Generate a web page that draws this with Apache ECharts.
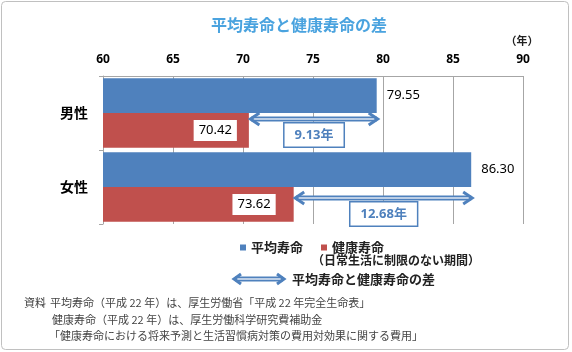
<!DOCTYPE html>
<html><head><meta charset="utf-8">
<script src="https://cdn.jsdelivr.net/npm/echarts@6/dist/echarts.min.js"></script>
<style>html,body{margin:0;padding:0;background:#fff}#c{width:572px;height:352px}</style>
</head><body><div id="c"></div>
<script>
// ---- data ----
const categories = ['男性', '女性'];
const lifeExpectancy = [79.55, 86.30];
const healthyLifeExpectancy = [70.42, 73.62];
const seriesNames = ['平均寿命', '健康寿命'];
const xMin = 60, xMax = 90, xInterval = 5;

// ---- style ----
const FONT = '"Noto Sans CJK JP", sans-serif';
const NUMFONT = '"Noto Sans", "Noto Sans CJK JP", sans-serif';
const BLUE = '#4f81bd', RED = '#c0504d', GRID = '#a6a6a6';
const arrowOffsets = [6, 11];
const boxOffsets = [22, 27];
const redLabelDist = [12, 18];

const gapData = categories.map((c, i) => [healthyLifeExpectancy[i], lifeExpectancy[i], i,
  +(lifeExpectancy[i] - healthyLifeExpectancy[i]).toFixed(2)]);

function arrowParts(x0, x1, y, head, half) {
  return [
    {type: 'line', shape: {x1: x0 + 2, y1: y, x2: x1 - 2, y2: y}, style: {stroke: BLUE, lineWidth: 5}},
    {type: 'line', shape: {x1: x0 + 4, y1: y, x2: x1 - 4, y2: y}, style: {stroke: '#dfe8f4', lineWidth: 1.5}},
    {type: 'polyline', shape: {points: [[x0 + head, y - half], [x0 + 1, y], [x0 + head, y + half]]},
      style: {stroke: BLUE, lineWidth: 3, fill: null}},
    {type: 'polyline', shape: {points: [[x1 - head, y - half], [x1 - 1, y], [x1 - head, y + half]]},
      style: {stroke: BLUE, lineWidth: 3, fill: null}}
  ];
}

const chart = echarts.init(document.getElementById('c'));
chart.setOption({
  animation: false,
  backgroundColor: '#fff',
  grid: {left: 103, right: 49, top: 76, bottom: 128},
  legend: {
    data: seriesNames, left: 235, top: 236, itemWidth: 6, itemHeight: 6, itemGap: 18,
    icon: 'rect', selectedMode: false,
    textStyle: {fontSize: 13, fontWeight: 'bold', color: '#222', fontFamily: FONT}
  },
  xAxis: {
    type: 'value', position: 'top', min: xMin, max: xMax, interval: xInterval,
    axisLine: {show: true, lineStyle: {color: GRID}},
    axisTick: {show: false},
    axisLabel: {margin: 10, color: '#000', fontSize: 12, fontWeight: 'bold', fontFamily: NUMFONT},
    splitLine: {show: true, lineStyle: {color: GRID}}
  },
  yAxis: {
    type: 'category', data: categories, inverse: true,
    axisLine: {show: true, lineStyle: {color: GRID}},
    axisTick: {show: true, length: 4, lineStyle: {color: GRID}},
    axisLabel: {fontSize: 14, fontWeight: 'bold', color: '#000', margin: 15, fontFamily: FONT}
  },
  series: [
    {
      name: seriesNames[0], type: 'bar', data: lifeExpectancy,
      barGap: '0%', barCategoryGap: '6%',
      itemStyle: {color: BLUE},
      label: {show: true, position: 'right', distance: 10, color: '#000', fontSize: 13,
        fontFamily: NUMFONT, formatter: p => p.value.toFixed(2)}
    },
    {
      name: seriesNames[1], type: 'bar',
      data: healthyLifeExpectancy.map((v, i) => ({value: v, label: {distance: redLabelDist[i]}})),
      barGap: '0%', barCategoryGap: '6%',
      itemStyle: {color: RED},
      label: {show: true, position: 'insideRight', color: '#000', fontSize: 13, fontFamily: NUMFONT,
        backgroundColor: '#fff', padding: [4, 5], formatter: p => p.value.toFixed(2)}
    },
    {
      type: 'custom', name: 'gap', data: gapData,
      encode: {x: [0, 1], y: 2},
      z: 5,
      renderItem: function (params, api) {
        const idx = api.value(2);
        const p0 = api.coord([api.value(0), idx]);
        const p1 = api.coord([api.value(1), idx]);
        const y = p0[1] + arrowOffsets[idx];
        const x0 = p0[0] + 0.5, x1 = p1[0] + 2;
        const mid = (x0 + x1) / 2;
        return {
          type: 'group',
          children: arrowParts(x0, x1, y, 10, 6).concat([{
            type: 'text', x: mid, y: p0[1] + boxOffsets[idx],
            style: {
              text: api.value(3).toFixed(2) + '年', align: 'center', verticalAlign: 'middle',
              fill: BLUE, font: 'bold 13px ' + NUMFONT,
              backgroundColor: '#fff', borderColor: BLUE, borderWidth: 1.5, padding: [5, 10]
            }
          }])
        };
      }
    }
  ],
  graphic: [
    {type: 'rect', shape: {x: 1.5, y: 1.5, width: 567, height: 348, r: 4},
      style: {stroke: '#c0c0c0', fill: null, lineWidth: 1}, silent: true},
    {type: 'text', x: 299, y: 25, style: {text: '平均寿命と健康寿命の差', align: 'center', verticalAlign: 'middle',
      fill: '#4aa3df', font: 'bold 16px ' + FONT}},
    {type: 'text', x: 522, y: 41, style: {text: '（年）', align: 'center', verticalAlign: 'middle',
      fill: '#222', font: 'bold 11px ' + FONT}},
    {type: 'text', x: 312, y: 260, style: {text: '（日常生活に制限のない期間）', verticalAlign: 'middle',
      fill: '#222', font: 'bold 12px ' + FONT}},
    {type: 'group', children: arrowParts(233, 285, 279, 8, 5)},
    {type: 'text', x: 292, y: 279, style: {text: '平均寿命と健康寿命の差', verticalAlign: 'middle',
      fill: '#222', font: 'bold 13px ' + FONT}},
    {type: 'text', x: 24, y: 303, style: {text: '資料', verticalAlign: 'middle', fill: '#444', font: '11px ' + FONT}},
    {type: 'text', x: 37, y: 303, style: {text: '：', verticalAlign: 'middle', fill: '#444', font: '11px ' + FONT}},
    {type: 'text', x: 50, y: 303, style: {text: '平均寿命（平成 22 年）は、厚生労働省「平成 22 年完全生命表」',
      verticalAlign: 'middle', fill: '#444', font: '11px ' + FONT}},
    {type: 'text', x: 52, y: 320, style: {text: '健康寿命（平成 22 年）は、厚生労働科学研究費補助金',
      verticalAlign: 'middle', fill: '#444', font: '11px ' + FONT}},
    {type: 'text', x: 49, y: 336, style: {text: '「健康寿命における将来予測と生活習慣病対策の費用対効果に関する費用」',
      verticalAlign: 'middle', fill: '#444', font: '11px ' + FONT}}
  ]
});
</script>
</body></html>
